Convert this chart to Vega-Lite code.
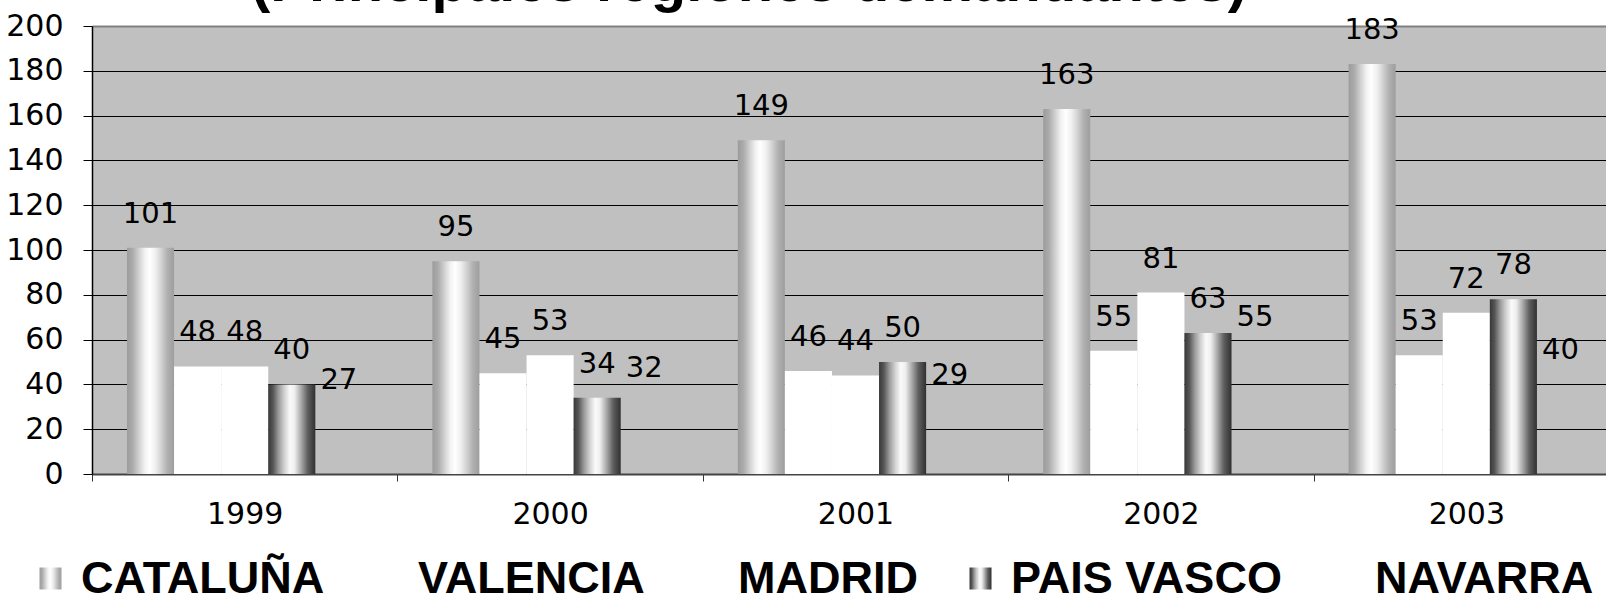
{
  "$schema": "https://vega.github.io/schema/vega-lite/v6.json",
  "autosize": {"type": "none"},
  "width": 1514,
  "height": 448,
  "padding": {"left": 92, "top": 26, "right": 0, "bottom": 122},
  "background": "white",
  "title": {
    "text": "(Principales regiones demandantes)",
    "font": "Liberation Sans",
    "fontSize": 58,
    "fontWeight": "bold",
    "color": "black",
    "anchor": "start",
    "dx": 159,
    "baseline": "bottom",
    "offset": -60,
    "frame": "group",
    "zindex": 1
  },
  "data": {
    "values": [
      {"year": "1999", "region": "CATALUÑA", "value": 101},
      {"year": "1999", "region": "VALENCIA", "value": 48},
      {"year": "1999", "region": "MADRID", "value": 48},
      {"year": "1999", "region": "PAIS VASCO", "value": 40},
      {"year": "1999", "region": "NAVARRA", "value": 27},
      {"year": "2000", "region": "CATALUÑA", "value": 95},
      {"year": "2000", "region": "VALENCIA", "value": 45},
      {"year": "2000", "region": "MADRID", "value": 53},
      {"year": "2000", "region": "PAIS VASCO", "value": 34},
      {"year": "2000", "region": "NAVARRA", "value": 32},
      {"year": "2001", "region": "CATALUÑA", "value": 149},
      {"year": "2001", "region": "VALENCIA", "value": 46},
      {"year": "2001", "region": "MADRID", "value": 44},
      {"year": "2001", "region": "PAIS VASCO", "value": 50},
      {"year": "2001", "region": "NAVARRA", "value": 29},
      {"year": "2002", "region": "CATALUÑA", "value": 163},
      {"year": "2002", "region": "VALENCIA", "value": 55},
      {"year": "2002", "region": "MADRID", "value": 81},
      {"year": "2002", "region": "PAIS VASCO", "value": 63},
      {"year": "2002", "region": "NAVARRA", "value": 55},
      {"year": "2003", "region": "CATALUÑA", "value": 183},
      {"year": "2003", "region": "VALENCIA", "value": 53},
      {"year": "2003", "region": "MADRID", "value": 72},
      {"year": "2003", "region": "PAIS VASCO", "value": 78},
      {"year": "2003", "region": "NAVARRA", "value": 40}
    ]
  },
  "encoding": {
    "x": {
      "field": "year",
      "type": "nominal",
      "scale": {"range": [0, 1527], "paddingInner": 0, "paddingOuter": 0},
      "axis": {
        "title": null,
        "labelAngle": 0,
        "labelFont": "DejaVu Sans",
        "labelFontSize": 30,
        "labelColor": "black",
        "labelPadding": 18,
        "tickBand": "extent",
        "tickSize": 7,
        "tickColor": "#333333",
        "domainColor": "#444444",
        "domainWidth": 2,
        "grid": false
      }
    },
    "xOffset": {
      "field": "region",
      "type": "nominal",
      "sort": ["CATALUÑA", "VALENCIA", "MADRID", "PAIS VASCO", "NAVARRA"],
      "scale": {"paddingInner": 0, "paddingOuter": 0.743}
    },
    "y": {
      "field": "value",
      "type": "quantitative",
      "scale": {"domain": [0, 200], "nice": false},
      "axis": {
        "title": null,
        "values": [0, 20, 40, 60, 80, 100, 120, 140, 160, 180, 200],
        "labelFont": "DejaVu Sans",
        "labelFontSize": 30,
        "labelColor": "black",
        "labelPadding": 20,
        "tickSize": 9,
        "tickColor": "black",
        "domainColor": "black",
        "domainWidth": 1.5,
        "grid": true,
        "gridColor": {"condition": {"test": "datum.value === 200", "value": "#808080"}, "value": "black"},
        "gridWidth": {"condition": {"test": "datum.value === 200", "value": 2}, "value": 1}
      }
    }
  },
  "layer": [
    {
      "mark": {"type": "bar", "strokeWidth": 0},
      "encoding": {
        "fill": {
          "field": "region",
          "type": "nominal",
          "sort": ["CATALUÑA", "VALENCIA", "MADRID", "PAIS VASCO", "NAVARRA"],
          "scale": {
            "domain": ["CATALUÑA", "VALENCIA", "MADRID", "PAIS VASCO", "NAVARRA"],
            "range": [
              {"expr": "{gradient: 'linear', x1: 0, y1: 0, x2: 1, y2: 0, stops: [{offset: 0, color: '#9C9C9C'}, {offset: 0.12, color: '#ABABAB'}, {offset: 0.25, color: '#CFCFCF'}, {offset: 0.38, color: '#F2F2F2'}, {offset: 0.48, color: '#FFFFFF'}, {offset: 0.6, color: '#F0F0F0'}, {offset: 0.72, color: '#D4D4D4'}, {offset: 0.86, color: '#B0B0B0'}, {offset: 1, color: '#9E9E9E'}]}"},
              "#FFFFFF",
              "#FFFFFF",
              {"expr": "{gradient: 'linear', x1: 0, y1: 0, x2: 1, y2: 0, stops: [{offset: 0, color: '#383838'}, {offset: 0.1, color: '#555555'}, {offset: 0.22, color: '#9A9A9A'}, {offset: 0.34, color: '#D0D0D0'}, {offset: 0.46, color: '#FAFAFA'}, {offset: 0.56, color: '#EEEEEE'}, {offset: 0.7, color: '#A8A8A8'}, {offset: 0.84, color: '#5E5E5E'}, {offset: 1, color: '#303030'}]}"},
              "transparent"
            ]
          },
          "legend": {
            "title": null,
            "orient": "none",
            "legendX": -64,
            "legendY": 530,
            "direction": "horizontal",
            "columns": 5,
            "gridAlign": "none",
            "symbolType": "square",
            "symbolSize": 484,
            "symbolStrokeWidth": 0,
            "labelFont": "Liberation Sans",
            "labelFontSize": 45,
            "labelFontWeight": "bold",
            "labelColor": "black",
            "labelOffset": 8,
            "labelLimit": 500,
            "columnPadding": 40,
            "padding": 0
          }
        }
      }
    },
    {
      "mark": {
        "type": "text",
        "baseline": "alphabetic",
        "dy": -25,
        "font": "DejaVu Sans",
        "fontSize": 29,
        "color": "black"
      },
      "encoding": {
        "text": {"field": "value", "type": "quantitative"}
      }
    }
  ],
  "config": {
    "view": {"fill": "#C0C0C0", "stroke": null},
    "font": "Liberation Sans"
  }
}
